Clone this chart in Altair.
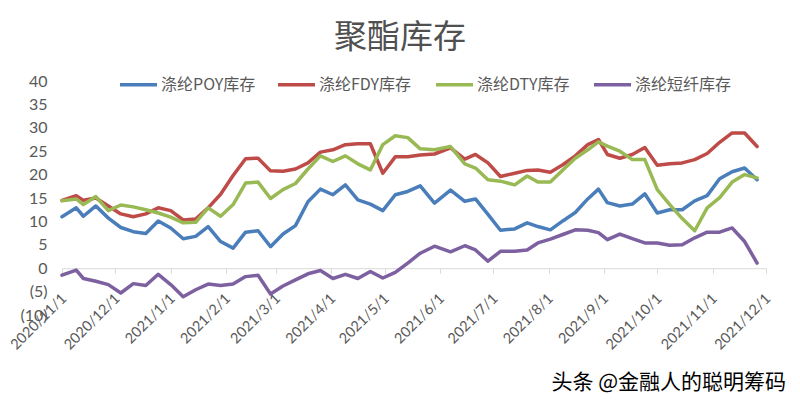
import altair as alt
import pandas as pd

chart_title = "聚酯库存"
watermark = "头条 @金融人的聪明筹码"

series_names = ["涤纶POY库存", "涤纶FDY库存", "涤纶DTY库存", "涤纶短纤库存"]
colors = ["#4A7EBB", "#BE4B48", "#98B954", "#7D60A0"]

dates = [
    "2020-11-01", "2020-11-09", "2020-11-13", "2020-11-20", "2020-11-27",
    "2020-12-04", "2020-12-11", "2020-12-18", "2020-12-25",
    "2021-01-01", "2021-01-08", "2021-01-15", "2021-01-22", "2021-01-29",
    "2021-02-05", "2021-02-12", "2021-02-19", "2021-02-26",
    "2021-03-05", "2021-03-12", "2021-03-19", "2021-03-26",
    "2021-04-02", "2021-04-09", "2021-04-16", "2021-04-23", "2021-04-30",
    "2021-05-07", "2021-05-14", "2021-05-21", "2021-05-29",
    "2021-06-07", "2021-06-15", "2021-06-21", "2021-06-28",
    "2021-07-05", "2021-07-13", "2021-07-20", "2021-07-26",
    "2021-08-02", "2021-08-09", "2021-08-16", "2021-08-23", "2021-08-29",
    "2021-09-03", "2021-09-10", "2021-09-17", "2021-09-24",
    "2021-10-01", "2021-10-08", "2021-10-15", "2021-10-22", "2021-10-29",
    "2021-11-05", "2021-11-12", "2021-11-19", "2021-11-26",
]

poy = [11.0, 12.9, 11.1, 13.3, 10.7, 8.7, 7.8, 7.4, 10.1, 8.6,
       6.3, 6.8, 8.9, 5.7, 4.3, 7.7, 8.0, 4.6, 7.3, 9.1,
       14.2, 16.9, 15.7, 17.8, 14.6, 13.7, 12.3, 15.7, 16.4, 17.6,
       13.9, 16.7, 14.3, 14.8, 11.5, 8.1, 8.4, 9.7, 8.9, 8.2,
       10.1, 11.9, 14.8, 16.9, 14.0, 13.3, 13.7, 15.9, 11.8, 12.5,
       12.5, 14.4, 15.5, 19.1, 20.6, 21.4, 18.9]
fdy = [14.5, 15.5, 14.5, 15.0, 13.3, 11.6, 11.0, 11.6, 12.9, 12.3,
       10.3, 10.5, 12.9, 15.8, 19.8, 23.4, 23.5, 20.8, 20.7, 21.2,
       22.5, 24.8, 25.3, 26.4, 26.6, 26.6, 20.3, 23.8, 23.8, 24.2,
       24.4, 25.7, 23.3, 24.3, 22.5, 19.6, 20.3, 20.9, 21.0, 20.5,
       22.1, 24.0, 26.4, 27.5, 24.3, 23.5, 24.3, 25.8, 22.0, 22.3,
       22.5, 23.2, 24.5, 26.9, 28.9, 28.9, 26.0]
dty = [14.4, 14.8, 13.6, 15.3, 12.3, 13.5, 13.1, 12.5, 11.8, 10.9,
       9.7, 9.8, 12.9, 11.1, 13.6, 18.2, 18.4, 14.9, 16.8, 18.1,
       21.2, 24.0, 22.8, 24.0, 22.3, 21.0, 26.4, 28.3, 27.9, 25.5,
       25.3, 26.0, 22.3, 21.4, 18.9, 18.6, 17.8, 19.7, 18.4, 18.4,
       21.0, 23.5, 25.3, 27.0, 26.1, 25.0, 23.2, 23.2, 16.8, 13.6,
       10.6, 8.0, 12.9, 15.1, 18.4, 20.0, 19.3]
psf = [-1.5, -0.4, -2.2, -2.8, -3.5, -5.3, -3.3, -3.7, -1.3, -3.5,
       -6.1, -4.6, -3.4, -3.7, -3.4, -1.8, -1.5, -5.5, -3.8, -2.5,
       -1.2, -0.5, -2.2, -1.3, -2.2, -0.7, -2.1, -0.9, 1.1, 3.2,
       4.7, 3.5, 4.8, 3.9, 1.5, 3.6, 3.6, 3.9, 5.4, 6.2,
       7.2, 8.2, 8.1, 7.6, 6.1, 7.3, 6.3, 5.4, 5.4, 4.9,
       5.0, 6.5, 7.7, 7.7, 8.6, 5.7, 1.1]

y_ticks = [-10, -5, 0, 5, 10, 15, 20, 25, 30, 35, 40]
x_tick_months = [(2020, 11), (2020, 12), (2021, 1), (2021, 2), (2021, 3), (2021, 4),
                 (2021, 5), (2021, 6), (2021, 7), (2021, 8), (2021, 9), (2021, 10),
                 (2021, 11), (2021, 12)]

rows = []
for name, vals in zip(series_names, [poy, fdy, dty, psf]):
    for d, v in zip(dates, vals):
        rows.append({"date": pd.Timestamp(d), "series": name, "value": v})
df = pd.DataFrame(rows)

W, H = 704, 234
Y_MIN, Y_MAX = -10, 40
zero_offset = -H * (0 - Y_MIN) / (Y_MAX - Y_MIN)

CJK = "Noto Sans CJK SC"
NUM = "Lato"
GRAY = "#595959"
AXIS_GRAY = "#D9D9D9"

x_vals = [alt.DateTime(year=y, month=m, date=1) for y, m in x_tick_months]

lines = alt.Chart(df).mark_line(strokeWidth=3.5, strokeJoin="round", strokeCap="round").encode(
    x=alt.X("date:T",
            scale=alt.Scale(domain=[x_vals[0], x_vals[-1]]),
            axis=alt.Axis(values=x_vals, format="%Y/%-m/%-d", title=None,
                          labelAngle=-45, labelAlign="right", labelBaseline="middle",
                          labelPadding=23, labelOffset=2, tickSize=5, tickColor=AXIS_GRAY,
                          domainColor=AXIS_GRAY, domainWidth=1, grid=False,
                          offset=zero_offset, labelFont=NUM, labelFontSize=14.5,
                          labelColor=GRAY, labelOverlap=False, labelBound=False,
                          labelFlush=False)),
    y=alt.Y("value:Q",
            scale=alt.Scale(domain=[Y_MIN, Y_MAX], nice=False, zero=False),
            axis=alt.Axis(values=y_ticks, title=None, domain=False, ticks=False, grid=False,
                          labelPadding=15, labelFont=NUM, labelFontSize=16, labelColor=GRAY,
                          labelExpr="datum.value < 0 ? '(' + (-datum.value) + ')' : '' + datum.value")),
    color=alt.Color("series:N",
                    sort=series_names,
                    scale=alt.Scale(domain=series_names, range=colors),
                    legend=alt.Legend(orient="none", legendX=56, legendY=-17, direction="horizontal",
                                      columns=4, title=None, symbolType="stroke", symbolSize=1369,
                                      symbolStrokeWidth=3.5, labelFont=CJK, labelFontSize=16,
                                      labelColor=GRAY, labelOffset=2, columnPadding=13,
                                      gridAlign="all", padding=0, labelLimit=200)),
)

title_df = pd.DataFrame({"t": [chart_title]})
title = alt.Chart(title_df).mark_text(font=CJK, fontSize=33, color="#505050", align="center",
                                      baseline="middle").encode(
    x=alt.value(338), y=alt.value(-43), text="t:N")

wm_df = pd.DataFrame({"t": [watermark]})
wm = alt.Chart(wm_df).mark_text(font=CJK, fontSize=21, color="#000000", align="right",
                                baseline="alphabetic").encode(
    x=alt.value(724), y=alt.value(308), text="t:N")

chart = alt.layer(lines, title, wm).properties(
    width=W, height=H,
    autosize=alt.AutoSizeParams(type="none"),
    padding={"left": 54, "top": 73, "right": 20, "bottom": 80},
    background="white",
).configure_view(strokeWidth=0)

chart.save("out.html", embed_options={"renderer": "svg", "actions": False})
